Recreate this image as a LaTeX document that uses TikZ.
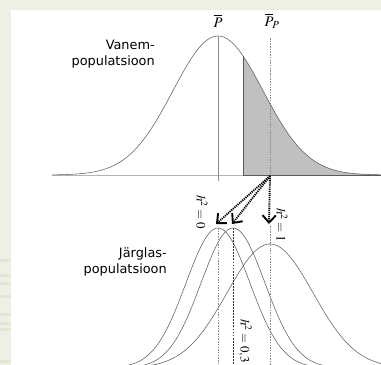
\documentclass[tikz,border=0pt]{standalone}
\usepackage{mathptmx}
\usepackage{fontspec}
\newfontfamily\labfont{DejaVu Sans}
\usetikzlibrary{arrows.meta}
\definecolor{band}{HTML}{EEF0E6}
\definecolor{stripe}{HTML}{E1E7D3}
\definecolor{curvegray}{HTML}{5A5A5A}
\definecolor{axisgray}{HTML}{B4B4B4}
\definecolor{midgray}{HTML}{8C8C8C}
\definecolor{shadegray}{HTML}{C0C0C0}
\tikzset{
  curve/.style={draw=curvegray, line width=0.45pt},
  base/.style={draw=axisgray, line width=0.6pt},
  mean/.style={draw=midgray, line width=0.7pt},
  gdash/.style={draw=midgray, line width=0.7pt, dash pattern=on 1.3pt off 1pt},
  kdash/.style={draw=black!80, line width=0.5pt, dash pattern=on 1.6pt off 1pt},
  sel/.style={draw=black, line width=1.6pt, dash pattern=on 1pt off 0.8pt,
    -{Straight Barb[length=2.2mm,width=4mm]}},
  poplab/.style={font=\labfont\fontsize{11pt}{13.6pt}\selectfont, align=right,
    anchor=east, inner sep=0pt},
  mlab/.style={font=\fontsize{12.5pt}{14pt}\selectfont},
  hlab/.style={font=\fontsize{11pt}{13pt}\selectfont, rotate=-90, inner sep=0pt},
}
\begin{document}
\begin{tikzpicture}[x=0.03cm, y=-0.03cm]
  \useasboundingbox (0,0) rectangle (381,365);
  % slide background
  \fill[band] (0,0) rectangle (381,365);
  \fill[white] (11,10) rectangle (381,365);
  \foreach \yy in {259,274,282,295,313,322,328,360}
    \fill[stripe] (0,\yy) rectangle (11,\yy+3);
  % parents
  \fill[shadegray] (243,175) -- plot[domain=243:381, samples=60]
    (\x,{175-139*exp(-0.5*((\x-218)/45)^2)}) -- (381,175) -- cycle;
  \draw[base] (52,175) -- (243,175);
  \draw[curvegray, line width=0.6pt] (243,175) -- (381,175);
  \draw[curve] plot[domain=52:381, samples=140] (\x,{175-139*exp(-0.5*((\x-218)/45)^2)});
  \draw[curvegray, line width=0.7pt] (243,175) -- (243,{175-139*exp(-0.5*(25/45)^2)});
  \draw[mean] (218,36) -- (218,181);
  \draw[gdash] (270,38) -- (270,175);
  \node[mlab] (pbar) at (218,21) {$\overline{P}$};
  \node[mlab] (ppbar) at (272,21) {$\overline{P}_{\!P}$};
  \node[poplab] (vanem) at (155,54) {Vanem-\\populatsioon};
  % offspring
  \begin{scope}
    \clip (0,0) rectangle (381,365);
    \draw[curve] plot[domain=120:316, samples=120] (\x,{368-140*exp(-0.5*((\x-218)/32)^2)});
    \draw[curve] plot[domain=135:331, samples=120] (\x,{368-140*exp(-0.5*((\x-233)/32)^2)});
    \draw[curve] plot[domain=150:390, samples=140] (\x,{368-124*exp(-0.5*((\x-270)/43)^2)});
    \draw[gdash] (218,228) -- (218,365);
    \draw[kdash] (233,228) -- (233,365);
    \draw[gdash] (270,226) -- (270,365);
  \end{scope}
  \node[poplab] (jarglas) at (167,262) {Järglas-\\populatsioon};
  \node[hlab] (h0) at (202,212) {$h^2=0$};
  \node[hlab] (h1) at (282,225) {$h^2=1$};
  \node[hlab] (h03) at (245,341) {$h^2=0{,}3$};
  % selection response
  \coordinate (selp) at (270,176);
  \coordinate (t0) at (216,224);
  \coordinate (t03) at (232,224);
  \coordinate (t1) at (269,224);
  \draw[sel] (selp) -- (t0);
  \draw[sel] (selp) -- (t03);
  \draw[sel] (selp) -- (t1);
\end{tikzpicture}
\end{document}
